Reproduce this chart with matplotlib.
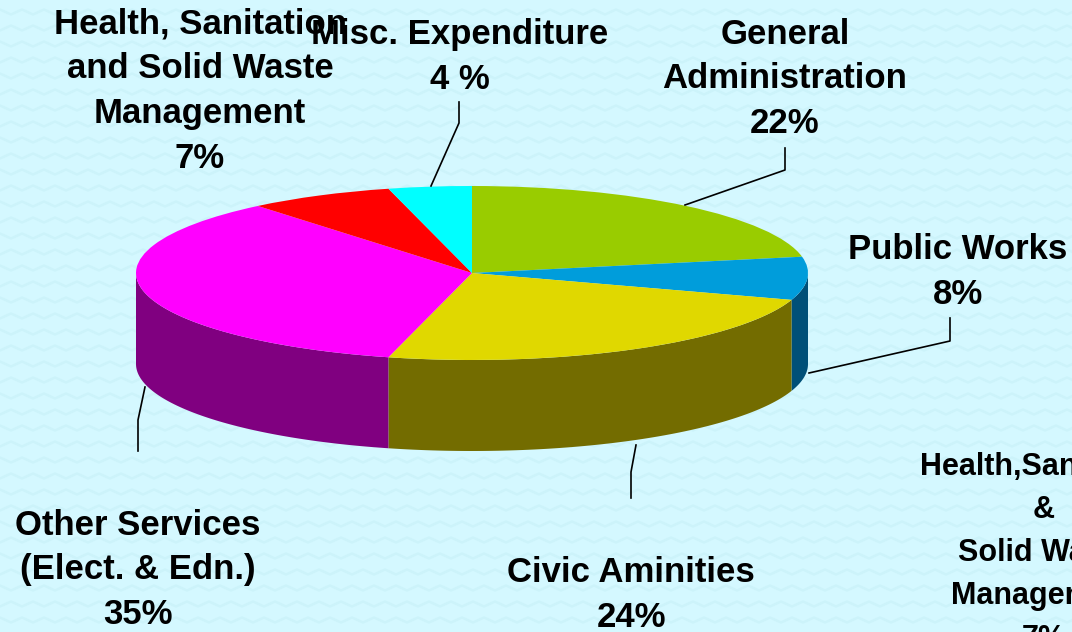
import numpy as np
import matplotlib
matplotlib.use("Agg")
import matplotlib.pyplot as plt

plt.rcParams['font.family'] = ['Liberation Sans', 'DejaVu Sans']

# Shares clockwise from 12 o'clock
shares = [22, 8, 24, 35, 7, 4]
top_colors = ['#99CC00', '#009DDB', '#E0D800', '#FF00FF', '#FF0000', '#00FFFF']
side_colors = ['#4D6600', '#005078', '#736C00', '#800080', '#800000', '#008080']

labels = [
    "General\nAdministration\n22%",
    "Public Works\n8%",
    "Civic Aminities\n24%",
    "Other Services\n(Elect. & Edn.)\n35%",
    "Health, Sanitation\nand Solid Waste\nManagement\n7%",
    "Misc. Expenditure\n4 %",
]
label_xy = [(785, 79), (958, 272), (631, 595), (138, 570), (200, 91), (460, 57)]
leaders = [
    [(685, 205), (785, 170), (785, 148)],
    [(809, 373), (950, 341), (950, 318)],
    [(636, 445), (631, 472), (631, 498)],
    [(145, 387), (138, 420), (138, 451)],
    None,
    [(431, 186), (459, 123), (459, 102)],
]

note = "Health,Sanitation\n&\nSolid Waste\nManagement\n7%"

W, H = 1072, 632
cx, cy, rx, ry = 472, 273, 336, 87
depth = 91 / ry

fig = plt.figure(figsize=(W / 100, H / 100), dpi=100, facecolor='#D4F8FF')

# overlay in pixels for the wallpaper, text and leader lines
bg = fig.add_axes([0, 0, 1, 1], zorder=0)
bg.set_xlim(0, W)
bg.set_ylim(H, 0)
bg.axis('off')
for row, y0 in enumerate(range(-4, H + 16, 16)):
    xs = np.arange(-22, W + 22, 11) + (row % 2) * 11
    ys = y0 + 2.5 * (-1.0) ** (np.arange(len(xs)))
    bg.plot(xs, ys, color='#CCF3FA', lw=1.8, solid_joinstyle='round')

ax = fig.add_axes([0, 0, 1, 1], zorder=1)
ax.patch.set_visible(False)

# side wall, only the front half of the rim shows
edges = np.cumsum([0] + shares) / sum(shares) * 360
for i in range(len(shares)):
    a0, a1 = max(edges[i], 90), min(edges[i + 1], 270)
    if a1 <= a0:
        continue
    t = np.radians(np.linspace(a0, a1, 80))
    x, y = np.sin(t), np.cos(t)
    ax.fill(np.r_[x, x[::-1]], np.r_[y, y[::-1] - depth],
            color=side_colors[i], lw=0, zorder=1)

ax.pie(shares, colors=top_colors, startangle=90, counterclock=False, radius=1,
       wedgeprops={'linewidth': 0, 'zorder': 2})
ax.set_aspect('auto')
ax.set_xlim(-cx / rx, (W - cx) / rx)
ax.set_ylim((cy - H) / ry, cy / ry)
ax.axis('off')

top = fig.add_axes([0, 0, 1, 1], zorder=2)
top.patch.set_visible(False)
top.set_xlim(0, W)
top.set_ylim(H, 0)
top.axis('off')

for pts in leaders:
    if pts:
        top.plot(*zip(*pts), color='black', lw=1.2)
for text, (x, y) in zip(labels, label_xy):
    top.text(x, y, text, ha='center', va='center', ma='center', fontsize=25,
             fontweight='bold', color='black', linespacing=1.45)
top.text(1044, 553, note, ha='center', va='center', ma='center', fontsize=22,
         fontweight='bold', color='black', linespacing=1.56)

fig.savefig('out.png', dpi=100, facecolor=fig.get_facecolor())
